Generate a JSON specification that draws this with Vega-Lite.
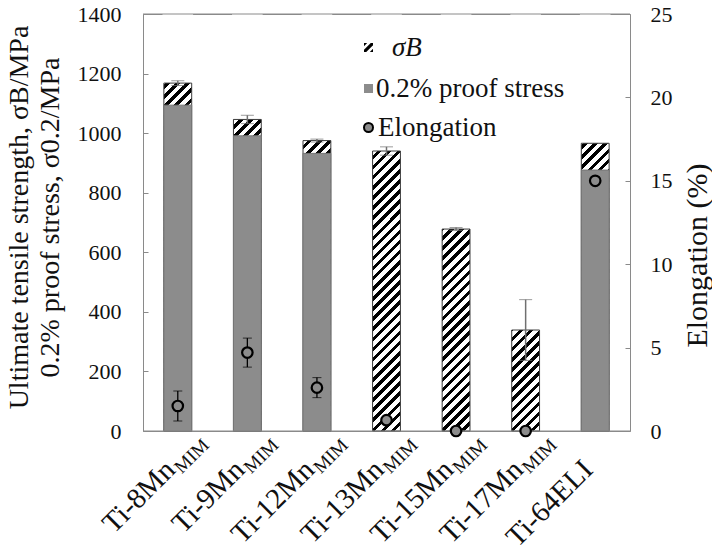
{
  "$schema": "https://vega.github.io/schema/vega-lite/v6.json",
  "width": 487,
  "height": 417,
  "autosize": "none",
  "padding": {"left": 143, "top": 14, "right": 82, "bottom": 123},
  "background": "white",
  "config": {
    "font": "Liberation Serif",
    "view": {"stroke": "#8a8a8a", "strokeWidth": 1}
  },
  "data": {"values": [
    {"alloy": "Ti-8Mn", "process": "MIM", "uts": 1168, "uts_err": 8, "proof": 1094, "elong": 1.5, "elong_err": 0.9},
    {"alloy": "Ti-9Mn", "process": "MIM", "uts": 1046, "uts_err": 14, "proof": 991, "elong": 4.7, "elong_err": 0.87},
    {"alloy": "Ti-12Mn", "process": "MIM", "uts": 975, "uts_err": 5, "proof": 932, "elong": 2.6, "elong_err": 0.6},
    {"alloy": "Ti-13Mn", "process": "MIM", "uts": 940, "uts_err": 14, "proof": null, "elong": 0.65, "elong_err": null},
    {"alloy": "Ti-15Mn", "process": "MIM", "uts": 678, "uts_err": 5, "proof": null, "elong": 0, "elong_err": null},
    {"alloy": "Ti-17Mn", "process": "MIM", "uts": 339, "uts_err": 102, "proof": null, "elong": 0, "elong_err": null},
    {"alloy": "Ti-64ELI", "process": null, "uts": 966, "uts_err": null, "proof": 876, "elong": 15, "elong_err": null}
  ]},
  "layer": [
    {
      "mark": {"type": "bar", "fill": {"gradient": "linear", "id": "hatchBar", "x1": 0, "y1": 0, "x2": 0.070878, "y2": 1.06201, "stops": [
        {"offset": 0, "color": "#000"}, {"offset": 0.0102, "color": "#000"}, {"offset": 0.0102, "color": "#fff"}, {"offset": 0.0227, "color": "#fff"},
        {"offset": 0.0227, "color": "#000"}, {"offset": 0.0330, "color": "#000"}, {"offset": 0.0330, "color": "#fff"}, {"offset": 0.0455, "color": "#fff"},
        {"offset": 0.0455, "color": "#000"}, {"offset": 0.0557, "color": "#000"}, {"offset": 0.0557, "color": "#fff"}, {"offset": 0.0682, "color": "#fff"},
        {"offset": 0.0682, "color": "#000"}, {"offset": 0.0784, "color": "#000"}, {"offset": 0.0784, "color": "#fff"}, {"offset": 0.0909, "color": "#fff"},
        {"offset": 0.0909, "color": "#000"}, {"offset": 0.1011, "color": "#000"}, {"offset": 0.1011, "color": "#fff"}, {"offset": 0.1136, "color": "#fff"},
        {"offset": 0.1136, "color": "#000"}, {"offset": 0.1239, "color": "#000"}, {"offset": 0.1239, "color": "#fff"}, {"offset": 0.1364, "color": "#fff"},
        {"offset": 0.1364, "color": "#000"}, {"offset": 0.1466, "color": "#000"}, {"offset": 0.1466, "color": "#fff"}, {"offset": 0.1591, "color": "#fff"},
        {"offset": 0.1591, "color": "#000"}, {"offset": 0.1693, "color": "#000"}, {"offset": 0.1693, "color": "#fff"}, {"offset": 0.1818, "color": "#fff"},
        {"offset": 0.1818, "color": "#000"}, {"offset": 0.1920, "color": "#000"}, {"offset": 0.1920, "color": "#fff"}, {"offset": 0.2045, "color": "#fff"},
        {"offset": 0.2045, "color": "#000"}, {"offset": 0.2148, "color": "#000"}, {"offset": 0.2148, "color": "#fff"}, {"offset": 0.2273, "color": "#fff"},
        {"offset": 0.2273, "color": "#000"}, {"offset": 0.2375, "color": "#000"}, {"offset": 0.2375, "color": "#fff"}, {"offset": 0.2500, "color": "#fff"},
        {"offset": 0.2500, "color": "#000"}, {"offset": 0.2602, "color": "#000"}, {"offset": 0.2602, "color": "#fff"}, {"offset": 0.2727, "color": "#fff"},
        {"offset": 0.2727, "color": "#000"}, {"offset": 0.2830, "color": "#000"}, {"offset": 0.2830, "color": "#fff"}, {"offset": 0.2955, "color": "#fff"},
        {"offset": 0.2955, "color": "#000"}, {"offset": 0.3057, "color": "#000"}, {"offset": 0.3057, "color": "#fff"}, {"offset": 0.3182, "color": "#fff"},
        {"offset": 0.3182, "color": "#000"}, {"offset": 0.3284, "color": "#000"}, {"offset": 0.3284, "color": "#fff"}, {"offset": 0.3409, "color": "#fff"},
        {"offset": 0.3409, "color": "#000"}, {"offset": 0.3511, "color": "#000"}, {"offset": 0.3511, "color": "#fff"}, {"offset": 0.3636, "color": "#fff"},
        {"offset": 0.3636, "color": "#000"}, {"offset": 0.3739, "color": "#000"}, {"offset": 0.3739, "color": "#fff"}, {"offset": 0.3864, "color": "#fff"},
        {"offset": 0.3864, "color": "#000"}, {"offset": 0.3966, "color": "#000"}, {"offset": 0.3966, "color": "#fff"}, {"offset": 0.4091, "color": "#fff"},
        {"offset": 0.4091, "color": "#000"}, {"offset": 0.4193, "color": "#000"}, {"offset": 0.4193, "color": "#fff"}, {"offset": 0.4318, "color": "#fff"},
        {"offset": 0.4318, "color": "#000"}, {"offset": 0.4420, "color": "#000"}, {"offset": 0.4420, "color": "#fff"}, {"offset": 0.4545, "color": "#fff"},
        {"offset": 0.4545, "color": "#000"}, {"offset": 0.4648, "color": "#000"}, {"offset": 0.4648, "color": "#fff"}, {"offset": 0.4773, "color": "#fff"},
        {"offset": 0.4773, "color": "#000"}, {"offset": 0.4875, "color": "#000"}, {"offset": 0.4875, "color": "#fff"}, {"offset": 0.5000, "color": "#fff"},
        {"offset": 0.5000, "color": "#000"}, {"offset": 0.5102, "color": "#000"}, {"offset": 0.5102, "color": "#fff"}, {"offset": 0.5227, "color": "#fff"},
        {"offset": 0.5227, "color": "#000"}, {"offset": 0.5330, "color": "#000"}, {"offset": 0.5330, "color": "#fff"}, {"offset": 0.5455, "color": "#fff"},
        {"offset": 0.5455, "color": "#000"}, {"offset": 0.5557, "color": "#000"}, {"offset": 0.5557, "color": "#fff"}, {"offset": 0.5682, "color": "#fff"},
        {"offset": 0.5682, "color": "#000"}, {"offset": 0.5784, "color": "#000"}, {"offset": 0.5784, "color": "#fff"}, {"offset": 0.5909, "color": "#fff"},
        {"offset": 0.5909, "color": "#000"}, {"offset": 0.6011, "color": "#000"}, {"offset": 0.6011, "color": "#fff"}, {"offset": 0.6136, "color": "#fff"},
        {"offset": 0.6136, "color": "#000"}, {"offset": 0.6239, "color": "#000"}, {"offset": 0.6239, "color": "#fff"}, {"offset": 0.6364, "color": "#fff"},
        {"offset": 0.6364, "color": "#000"}, {"offset": 0.6466, "color": "#000"}, {"offset": 0.6466, "color": "#fff"}, {"offset": 0.6591, "color": "#fff"},
        {"offset": 0.6591, "color": "#000"}, {"offset": 0.6693, "color": "#000"}, {"offset": 0.6693, "color": "#fff"}, {"offset": 0.6818, "color": "#fff"},
        {"offset": 0.6818, "color": "#000"}, {"offset": 0.6920, "color": "#000"}, {"offset": 0.6920, "color": "#fff"}, {"offset": 0.7045, "color": "#fff"},
        {"offset": 0.7045, "color": "#000"}, {"offset": 0.7148, "color": "#000"}, {"offset": 0.7148, "color": "#fff"}, {"offset": 0.7273, "color": "#fff"},
        {"offset": 0.7273, "color": "#000"}, {"offset": 0.7375, "color": "#000"}, {"offset": 0.7375, "color": "#fff"}, {"offset": 0.7500, "color": "#fff"},
        {"offset": 0.7500, "color": "#000"}, {"offset": 0.7602, "color": "#000"}, {"offset": 0.7602, "color": "#fff"}, {"offset": 0.7727, "color": "#fff"},
        {"offset": 0.7727, "color": "#000"}, {"offset": 0.7830, "color": "#000"}, {"offset": 0.7830, "color": "#fff"}, {"offset": 0.7955, "color": "#fff"},
        {"offset": 0.7955, "color": "#000"}, {"offset": 0.8057, "color": "#000"}, {"offset": 0.8057, "color": "#fff"}, {"offset": 0.8182, "color": "#fff"},
        {"offset": 0.8182, "color": "#000"}, {"offset": 0.8284, "color": "#000"}, {"offset": 0.8284, "color": "#fff"}, {"offset": 0.8409, "color": "#fff"},
        {"offset": 0.8409, "color": "#000"}, {"offset": 0.8511, "color": "#000"}, {"offset": 0.8511, "color": "#fff"}, {"offset": 0.8636, "color": "#fff"},
        {"offset": 0.8636, "color": "#000"}, {"offset": 0.8739, "color": "#000"}, {"offset": 0.8739, "color": "#fff"}, {"offset": 0.8864, "color": "#fff"},
        {"offset": 0.8864, "color": "#000"}, {"offset": 0.8966, "color": "#000"}, {"offset": 0.8966, "color": "#fff"}, {"offset": 0.9091, "color": "#fff"},
        {"offset": 0.9091, "color": "#000"}, {"offset": 0.9193, "color": "#000"}, {"offset": 0.9193, "color": "#fff"}, {"offset": 0.9318, "color": "#fff"},
        {"offset": 0.9318, "color": "#000"}, {"offset": 0.9420, "color": "#000"}, {"offset": 0.9420, "color": "#fff"}, {"offset": 0.9545, "color": "#fff"},
        {"offset": 0.9545, "color": "#000"}, {"offset": 0.9648, "color": "#000"}, {"offset": 0.9648, "color": "#fff"}, {"offset": 0.9773, "color": "#fff"},
        {"offset": 0.9773, "color": "#000"}, {"offset": 0.9875, "color": "#000"}, {"offset": 0.9875, "color": "#fff"}, {"offset": 1, "color": "#fff"}
      ]}},
      "encoding": {
        "x": {"field": "alloy", "type": "nominal", "sort": null,
          "scale": {"domain": ["Ti-8Mn", "Ti-9Mn", "Ti-12Mn", "Ti-13Mn", "Ti-15Mn", "Ti-17Mn", "Ti-64ELI"], "paddingInner": 0.6, "paddingOuter": 0.3},
          "axis": {"title": null, "labelAngle": -45, "labelAlign": "right", "labelBaseline": "alphabetic", "labelOffset": -1, "labelPadding": 40, "ticks": false, "domain": false, "grid": false, "labelFont": "Liberation Serif", "labelColor": "#111111", "labelFontSize": 29, "labelLimit": 400}},
        "y": {"datum": 1400, "type": "quantitative", "scale": {"domain": [0, 1400], "nice": false}, "axis": null},
        "y2": {"datum": 0}
      }
    },
    {
      "mark": {"type": "bar", "fill": "#ffffff", "width": {"band": 1.1}},
      "encoding": {
        "x": {"field": "alloy", "type": "nominal", "sort": null},
        "y": {"field": "uts", "type": "quantitative", "scale": {"domain": [0, 1400], "nice": false}, "axis": null},
        "y2": {"datum": 1400}
      }
    },
    {
      "mark": {"type": "bar", "fill": "transparent", "stroke": "#3a3a3a", "strokeWidth": 1},
      "encoding": {
        "x": {"field": "alloy", "type": "nominal", "sort": null},
        "y": {"field": "uts", "type": "quantitative", "scale": {"domain": [0, 1400], "nice": false},
          "axis": {"values": [0, 200, 400, 600, 800, 1000, 1200, 1400], "format": "d", "title": ["Ultimate tensile strength, σB/MPa", "0.2% proof stress, σ0.2/MPa"], "titleFont": "Liberation Serif", "titleFontWeight": "normal", "titleColor": "#111111", "titleFontSize": 28, "titleAngle": 270, "titleBaseline": "top", "titleAlign": "center", "titleX": -138, "titleY": 203, "titleLineHeight": 31, "labelFont": "Liberation Serif", "labelColor": "#111111", "labelFontSize": 22, "tickSize": -5, "tickColor": "#8a8a8a", "labelPadding": 27, "domain": false, "grid": false}},
        "y2": {"datum": 0}
      }
    },
    {
      "mark": {"type": "bar", "fill": "#8c8c8c", "stroke": "#767676", "strokeWidth": 1},
      "encoding": {
        "x": {"field": "alloy", "type": "nominal", "sort": null},
        "y": {"field": "proof", "type": "quantitative", "scale": {"domain": [0, 1400], "nice": false}, "axis": null},
        "y2": {"datum": 0}
      }
    },
    {
      "transform": [{"filter": "datum.uts_err > 0"}],
      "mark": {"type": "errorbar", "ticks": {"size": 13, "color": "#707070", "strokeWidth": 1.5}, "rule": {"color": "#707070", "strokeWidth": 1.5}},
      "encoding": {
        "x": {"field": "alloy", "type": "nominal", "sort": null},
        "y": {"field": "uts", "type": "quantitative", "scale": {"domain": [0, 1400], "nice": false}, "axis": null},
        "yError": {"field": "uts_err"}
      }
    },
    {
      "data": {"values": [{"frame": 1400}, {"frame": 0}]},
      "mark": {"type": "rule", "color": "#8a8a8a", "strokeWidth": 1},
      "encoding": {"y": {"field": "frame", "type": "quantitative", "scale": {"domain": [0, 1400], "nice": false}, "axis": null}}
    },
    {
      "transform": [{"filter": "datum.process != null"}],
      "mark": {"type": "text", "angle": 315, "align": "left", "baseline": "alphabetic", "dx": -28, "dy": 33.6, "font": "Liberation Serif", "fontSize": 19, "color": "#111111"},
      "encoding": {
        "x": {"field": "alloy", "type": "nominal", "sort": null},
        "y": {"datum": 0, "type": "quantitative", "scale": {"domain": [0, 1400], "nice": false}, "axis": null},
        "text": {"field": "process"}
      }
    },
    {
      "transform": [{"filter": "datum.elong_err > 0"}],
      "mark": {"type": "errorbar", "ticks": {"size": 9, "color": "#000000", "strokeWidth": 1.3}, "rule": {"color": "#000000", "strokeWidth": 1.3}},
      "encoding": {
        "x": {"field": "alloy", "type": "nominal", "sort": null},
        "y": {"field": "elong", "type": "quantitative", "scale": {"domain": [0, 25], "nice": false}, "axis": null},
        "yError": {"field": "elong_err"}
      }
    },
    {
      "mark": {"type": "point", "filled": true, "fill": "#8c8c8c", "stroke": "#000000", "strokeWidth": 2.2, "size": 110, "opacity": 1},
      "encoding": {
        "x": {"field": "alloy", "type": "nominal", "sort": null},
        "y": {"field": "elong", "type": "quantitative", "scale": {"domain": [0, 25], "nice": false},
          "axis": {"orient": "right", "values": [0, 5, 10, 15, 20, 25], "title": "Elongation (%)", "titleFont": "Liberation Serif", "titleFontWeight": "normal", "titleColor": "#111111", "titleFontSize": 30, "titleAngle": 270, "titleBaseline": "top", "titleAlign": "center", "titleX": 52, "titleY": 241, "labelFont": "Liberation Serif", "labelColor": "#111111", "labelFontSize": 22, "tickSize": -5, "tickColor": "#8a8a8a", "labelPadding": 25, "domain": false, "grid": false}},
        "shape": {"datum": "Elongation", "type": "nominal",
          "scale": {"domain": ["Elongation"], "range": ["circle"]},
          "legend": {"title": null, "orient": "none", "legendX": 212, "legendY": 100, "padding": 0, "symbolSize": 81, "symbolStrokeWidth": 2, "labelFont": "Liberation Serif", "labelFontSize": 27, "labelColor": "#111111", "labelOffset": -4, "labelLimit": 400}
        }
      }
    },
    {
      "transform": [{"filter": "false"}],
      "mark": {"type": "point", "filled": true, "fill": "#000000", "strokeWidth": 0, "opacity": 1},
      "encoding": {
        "shape": {"datum": "σB", "type": "nominal",
          "scale": {"domain": ["σB"], "range": ["M-1,-1H1V1H-1Z M-0.5,1L0.3,1L1,0.3L1,-0.5Z M0.5,-1L-0.3,-1L-1,-0.3L-1,0.5Z"]},
          "legend": {"title": null, "orient": "none", "legendX": 212, "legendY": 20, "padding": 0, "symbolSize": 81, "symbolStrokeWidth": 0, "labelFont": "Liberation Serif", "labelFontSize": 27, "labelFontStyle": "italic", "labelColor": "#111111", "labelOffset": 10, "labelLimit": 400}
        }
      }
    },
    {
      "transform": [{"filter": "false"}],
      "mark": {"type": "point", "filled": true, "fill": "#8c8c8c", "strokeWidth": 0, "opacity": 1},
      "encoding": {
        "shape": {"datum": "0.2% proof stress", "type": "nominal",
          "scale": {"domain": ["0.2% proof stress"], "range": ["square"]},
          "legend": {"title": null, "orient": "none", "legendX": 212, "legendY": 61, "padding": 0, "symbolSize": 81, "symbolStrokeWidth": 0, "labelFont": "Liberation Serif", "labelFontSize": 27, "labelColor": "#111111", "labelOffset": -6, "labelLimit": 400}
        }
      }
    }
  ],
  "resolve": {"scale": {"y": "independent", "shape": "independent"}}
}
